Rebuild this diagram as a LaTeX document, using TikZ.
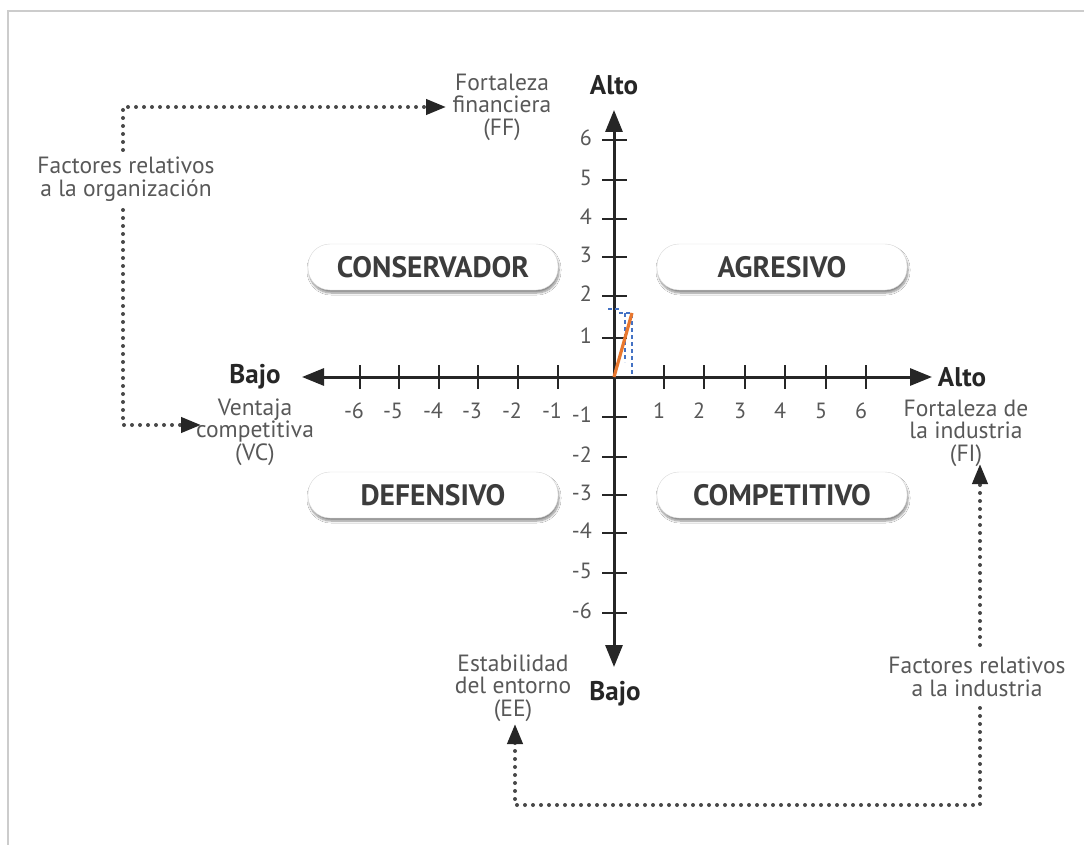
\documentclass[tikz,border=0pt]{standalone}
\usepackage{fontspec}
\setmainfont{PT Sans}
\usetikzlibrary{arrows.meta,shadows.blur}
\definecolor{txt}{HTML}{585858}
\definecolor{dotc}{HTML}{484848}
\definecolor{dark}{HTML}{262626}
\definecolor{org}{HTML}{E8772E}
\definecolor{blu}{HTML}{4472C4}
\begin{document}
\begin{tikzpicture}[x=1pt,y=-1pt,
 axisline/.style={line width=3pt, draw=dark, {Triangle[length=22pt,width=17pt]}-{Triangle[length=22pt,width=17pt]}},
 tickline/.style={line width=2pt, draw=dark},
 num/.style={font=\fontsize{22}{24}\selectfont, text=txt, inner sep=0pt},
 lbl/.style={font=\fontsize{23.5}{22.5}\selectfont, text=txt, align=center, inner sep=0pt},
 hi/.style={font=\fontsize{27}{28}\selectfont\bfseries, text=dark, inner sep=0pt},
 pill/.style={draw=gray!30, fill=white, rounded corners=22pt, minimum width=250pt, minimum height=46pt, font=\fontsize{29.5}{30}\selectfont\bfseries, text=dark!90, blur shadow={shadow xshift=1pt, shadow yshift=-3pt, shadow blur steps=8, shadow blur extra rounding=4pt, shadow opacity=45}},
 dots/.style={draw=dotc, line width=4pt, line cap=round, dash pattern=on 0pt off 8pt},
 dtip/.style={-{Triangle[length=20pt,width=15pt,color=dark]}}
]
\useasboundingbox (0,0) rectangle (1084,845);
\fill[white] (0,0) rectangle (1084,845);
% frame
\draw[gray!40, line width=2.5pt] (1084,11) -- (8,11) -- (8,845);

% quadrant pills
\node[pill] (cons) at (433,267) {CONSERVADOR};
\node[pill] (agr) at (782,267) {AGRESIVO};
\node[pill] (def) at (433,495) {DEFENSIVO};
\node[pill] (comp) at (782,495) {COMPETITIVO};

% axes
\coordinate (O) at (614,377);
\coordinate (L) at (302,377);
\coordinate (R) at (932,377);
\coordinate (T) at (614,110);
\coordinate (B) at (614,667);
\draw[axisline] (L) -- (R);
\draw[axisline] (T) -- (B);

% x ticks
\foreach \x/\n in {360/-6,399/-5,439/-4,478/-3,518/-2,558/-1}{
  \draw[tickline] (\x,365) -- (\x,389);
  \node[num] at (\x-6,411) {\n};
}
\foreach \x/\n in {664/1,704/2,745/3,785/4,826/5,866/6}{
  \draw[tickline] (\x,365) -- (\x,389);
  \node[num] at (\x-5,411) {\n};
}
% y ticks
\foreach \y/\n in {140/6,180/5,219/4,257/3,296/2,338/1,417/-1,457/-2,495/-3,533/-4,573/-5,613/-6}{
  \draw[tickline] (602,\y) -- (627,\y);
  \node[num, anchor=east] at (592,\y-2) {\n};
}

% result vector
\draw[blu, line width=1.8pt, dash pattern=on 4pt off 3pt] (608,309) -- (620,309);
\draw[blu, line width=1.8pt, dash pattern=on 4pt off 3pt] (619,313) -- (632,313) -- (632,377);
\draw[blu, line width=1.8pt, dash pattern=on 4pt off 3pt] (625,313) -- (625,362);
\draw[org, line width=3.2pt] (O) -- (632,313);

% labels
\node[hi] (altoT) at (614,85) {Alto};
\node[lbl] (ff) at (502,107) {Fortaleza\\financiera\\(FF)};
\node[hi] (bajoL) at (255,377) {Bajo};
\node[lbl] (vc) at (255,432) {Ventaja\\competitiva\\(VC)};
\node[hi] (altoR) at (962,377) {Alto};
\node[lbl] (fi) at (966,433) {Fortaleza de\\la industria\\(FI)};
\node[hi] (bajoB) at (615,694) {Bajo};
\node[lbl] (ee) at (513,688) {Estabilidad\\del entorno\\(EE)};
\node[lbl] (fo) at (126,179) {Factores relativos\\a la organización};
\node[lbl] (fin) at (977,677) {Factores relativos\\a la industria};

% dotted connectors
\coordinate (c1) at (123,107);
\coordinate (c2) at (123,425);
\coordinate (c3) at (980,805);
\coordinate (c4) at (515,805);
\draw[dots,dtip] (123,150) -- (c1) -- (446,107);
\draw[dots,dtip] (123,210) -- (c2) -- (201,425);
\draw[dots,dtip] (980,645) -- (980,464);
\draw[dots,dtip] (980,708) -- (c3) -- (c4) -- (515,724);
\end{tikzpicture}
\end{document}
